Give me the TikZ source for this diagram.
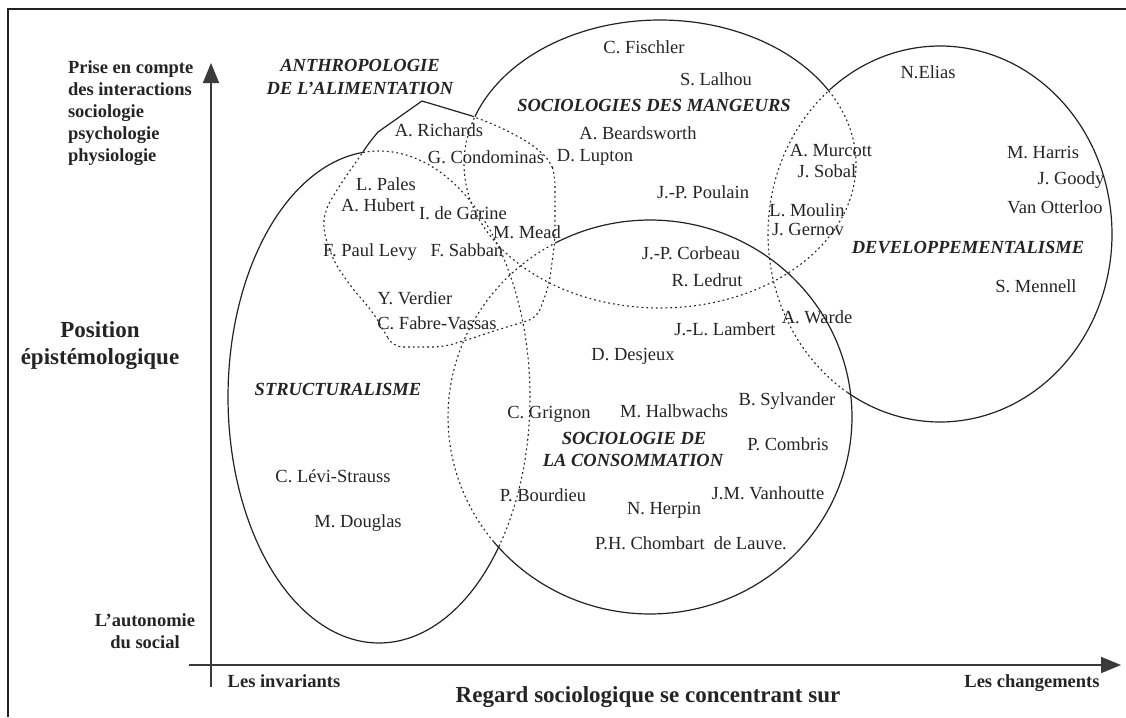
\documentclass[tikz,border=0pt]{standalone}
\usepackage{fontspec}
\setmainfont{Liberation Serif}
\usetikzlibrary{arrows.meta}
\definecolor{ink}{HTML}{222222}
\definecolor{txt}{HTML}{242424}
\definecolor{axisgray}{HTML}{3A3A3A}
\begin{document}
\begin{tikzpicture}[x=1pt,y=-1pt,
  every node/.style={inner sep=0pt, outer sep=0pt, text=txt},
  nm/.style={font=\fontsize{18.5}{22}\selectfont, anchor=base, yshift=-6.3pt},
  grp/.style={font=\fontsize{18.5}{22}\selectfont\bfseries\itshape, anchor=base, yshift=-6.3pt},
  axl/.style={font=\fontsize{18.5}{22}\selectfont\bfseries, anchor=base, yshift=-6.3pt},
  big/.style={font=\fontsize{23}{27}\selectfont\bfseries, anchor=base, yshift=-7.6pt},
  solidc/.style={draw=ink, line width=1.2pt},
  dotc/.style={draw=ink, line width=1.1pt, dash pattern=on 1.8pt off 3pt},
  axisline/.style={draw=axisgray, line width=1.8pt, -{Triangle[length=20pt,width=16pt]}},
  framel/.style={draw=ink, line width=2.4pt}]
\useasboundingbox (0,0) rectangle (1126,717);

% frame
\coordinate (fb) at (8,717);
\coordinate (fc) at (8,9);
\coordinate (fr) at (1126,9);
\draw[framel] (fb) -- (fc) -- (fr);

% axes
\coordinate (vb) at (211,687);
\coordinate (vt) at (211,63);
\coordinate (hl) at (189,665);
\coordinate (hr) at (1121,665);
\draw[axisline] (vb) -- (vt);
\draw[axisline] (hl) -- (hr);

% structuralisme ellipse
\draw[solidc] plot[domain=36.9:263.9, samples=140, variable=\t] ({379+151*cos(\t)},{397+246*sin(\t)});
\draw[dotc] plot[domain=-96.1:36.9, samples=90, variable=\t] ({379+151*cos(\t)},{397+246*sin(\t)});

% sociologie de la consommation
\draw[solidc] plot[domain=-117.5:140.7, samples=160, variable=\t] ({650+202*cos(\t)},{417+197*sin(\t)});
\draw[dotc] plot[domain=140.7:242.5, samples=80, variable=\t] ({650+202*cos(\t)},{417+197*sin(\t)});

% sociologies des mangeurs
\draw[solidc] plot[domain=-160.8:-30.5, samples=120, variable=\t] ({660+196*cos(\t)},{164+144*sin(\t)});
\draw[dotc] plot[domain=-30.5:199.2, samples=160, variable=\t] ({660+196*cos(\t)},{164+144*sin(\t)});

% developpementalisme
\draw[solidc] plot[domain=-129.6:122.5, samples=160, variable=\t] ({940+172*cos(\t)},{234+188*sin(\t)});
\draw[dotc] plot[domain=122.5:230.4, samples=80, variable=\t] ({940+172*cos(\t)},{234+188*sin(\t)});

% anthropologie de l'alimentation
\draw[solidc, line join=round] (363,152) .. controls (368,144) and (373,138) .. (378,132) -- (422,101) -- (472,116);
\draw[dotc, rounded corners=10pt] (472,116) -- (500,127) -- (530,143) -- (550,160) -- (555,175) -- (555,240)
  -- (549,285) -- (537,318) -- (500,329) -- (473,338) -- (443,347) -- (393,347) -- (384,331)
  -- (372,311) -- (352,288) -- (334,262) -- (323,230) -- (325,210) -- (340,185) -- (363,152);

% axis labels
\node[axl, anchor=base west] at (68,67) {Prise en compte};
\node[axl, anchor=base west] at (68,89) {des interactions};
\node[axl, anchor=base west] at (68,111) {sociologie};
\node[axl, anchor=base west] at (68,133) {psychologie};
\node[axl, anchor=base west] at (68,155) {physiologie};
\node[big] at (100,330) {Position};
\node[big] at (100,357) {épistémologique};
\node[axl] at (145,620) {L’autonomie};
\node[axl] at (145,642) {du social};
\node[axl] at (284,681) {Les invariants};
\node[axl] at (1032,681) {Les changements};
\node[big] at (648,695) {Regard sociologique se concentrant sur};

% group labels
\node[grp] at (360,65) {ANTHROPOLOGIE};
\node[grp] at (360,88) {DE L'ALIMENTATION};
\node[grp] at (654,105) {SOCIOLOGIES DES MANGEURS};
\node[grp] at (968,247) {DEVELOPPEMENTALISME};
\node[grp] at (338,389) {STRUCTURALISME};
\node[grp] at (634,438) {SOCIOLOGIE DE};
\node[grp] at (633,460) {LA CONSOMMATION};

% names
\node[nm] at (644,47) {C. Fischler};
\node[nm] at (716,79) {S. Lalhou};
\node[nm] at (638,133) {A. Beardsworth};
\node[nm] at (595,155) {D. Lupton};
\node[nm] at (439,130) {A. Richards};
\node[nm] at (486,157) {G. Condominas};
\node[nm] at (386,184) {L. Pales};
\node[nm] at (378,205) {A. Hubert};
\node[nm] at (463,213) {I. de Garine};
\node[nm] at (527,232) {M. Mead};
\node[nm] at (370,250) {F. Paul Levy};
\node[nm] at (467,250) {F. Sabban};
\node[nm] at (415,298) {Y. Verdier};
\node[nm] at (437,323) {C. Fabre-Vassas};
\node[nm] at (703,192) {J.-P. Poulain};
\node[nm] at (831,150) {A. Murcott};
\node[nm] at (827,171) {J. Sobal};
\node[nm] at (807,210) {L. Moulin};
\node[nm] at (808,229) {J. Gernov};
\node[nm] at (928,72) {N.Elias};
\node[nm] at (1043,152) {M. Harris};
\node[nm] at (1071,178) {J. Goody};
\node[nm] at (1055,207) {Van Otterloo};
\node[nm] at (1036,286) {S. Mennell};
\node[nm] at (691,253) {J.-P. Corbeau};
\node[nm] at (707,280) {R. Ledrut};
\node[nm] at (817,317) {A. Warde};
\node[nm] at (725,329) {J.-L. Lambert};
\node[nm] at (633,354) {D. Desjeux};
\node[nm] at (549,412) {C. Grignon};
\node[nm] at (674,411) {M. Halbwachs};
\node[nm] at (787,399) {B. Sylvander};
\node[nm] at (788,444) {P. Combris};
\node[nm] at (333,476) {C. Lévi-Strauss};
\node[nm] at (358,521) {M. Douglas};
\node[nm] at (543,495) {P. Bourdieu};
\node[nm] at (768,493) {J.M. Vanhoutte};
\node[nm] at (664,508) {N. Herpin};
\node[nm] at (691,543) {P.H. Chombart\ \ de Lauve.};
\end{tikzpicture}
\end{document}
